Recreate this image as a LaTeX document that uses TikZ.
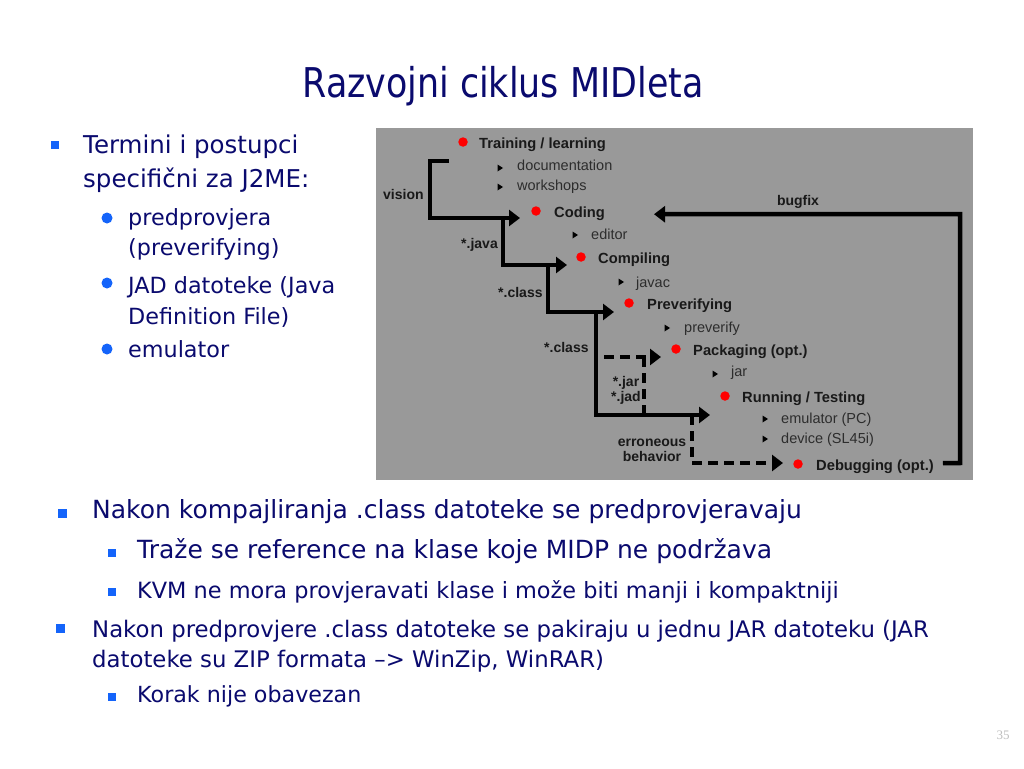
\documentclass[tikz,border=0pt]{standalone}
\usepackage{fontspec}
\setmainfont{DejaVu Sans}
\newfontfamily\titlefont[FakeStretch=0.85]{DejaVu Sans}
\newfontfamily\diafont{Liberation Sans}
\newfontfamily\numfont{Liberation Serif}
\usetikzlibrary{calc, positioning, arrows.meta}

\definecolor{slidenavy}{RGB}{10,10,110}
\definecolor{bulletblue}{RGB}{20,100,250}
\definecolor{diagrey}{RGB}{153,153,153}
\definecolor{dotred}{RGB}{255,0,0}
\definecolor{diatext}{RGB}{25,25,25}
\definecolor{tooltext}{RGB}{45,45,45}

\tikzset{
  txt/.style={anchor=base west, inner sep=0pt, text=slidenavy},
  sqbullet/.style={fill=bulletblue, inner sep=0pt, minimum size=#1},
  rdbullet/.style={circle, fill=bulletblue, inner sep=0pt, minimum size=11pt},
  stagedot/.style={circle, fill=dotred, inner sep=0pt, minimum size=9.5pt},
  stagetext/.style={anchor=base west, inner sep=0pt, text=diatext,
    font=\diafont\bfseries\fontsize{14.7}{17}\selectfont},
  toolitem/.style={anchor=base west, inner sep=0pt, text=tooltext,
    font=\diafont\fontsize{14.5}{17}\selectfont},
  flowlabel/.style={inner sep=0pt, text=diatext, align=center,
    font=\diafont\bfseries\fontsize{14}{17}\selectfont},
  flow/.style={line width=4.5pt, draw=black, -{Triangle[length=11pt,width=16pt]}},
  optflow/.style={flow, dash pattern=on 10pt off 6pt},
  pics/subtri/.style={code={\fill[black] (-2.5,-3.5) -- (3,0) -- (-2.5,3.5) -- cycle;}}
}

\begin{document}
\begin{tikzpicture}[x=1pt, y=-1pt]
\useasboundingbox (0,0) rectangle (1024,768);
\fill[white] (0,0) rectangle (1024,768);

% Title
\node[anchor=base, inner sep=0pt, text=slidenavy, font=\titlefont\fontsize{41}{48}\selectfont]
  (title) at (503,97) {Razvojni ciklus MIDleta};

% Left column
\node[sqbullet=8pt] (b1) at (55,145) {};
\node[txt, font=\fontsize{24.5}{29}\selectfont] (t1a) at (83,153) {Termini i postupci};
\node[txt, font=\fontsize{24.5}{29}\selectfont] (t1b) at (83,187) {specifični za J2ME:};
\node[rdbullet] (c1) at (107,218) {};
\node[rdbullet] (c2) at (107,283) {};
\node[rdbullet] (c3) at (107,349) {};
\node[txt, font=\fontsize{22.3}{27}\selectfont] (s1a) at (128,225) {predprovjera};
\node[txt, font=\fontsize{22.3}{27}\selectfont] (s1b) at (128,255) {(preverifying)};
\node[txt, font=\fontsize{22.3}{27}\selectfont] (s2a) at (128,293) {JAD datoteke (Java};
\node[txt, font=\fontsize{22.3}{27}\selectfont] (s2b) at (128,324) {Definition File)};
\node[txt, font=\fontsize{22.3}{27}\selectfont] (s3) at (128,357) {emulator};

% Diagram - development cycle
\fill[diagrey] (376,128) rectangle (973,480);

% stages
\node[stagedot] (dtrain) at (463,142) {};
\node[stagedot] (dcode) at (536,211) {};
\node[stagedot] (dcomp) at (581,257) {};
\node[stagedot] (dprev) at (629,303) {};
\node[stagedot] (dpack) at (676,349) {};
\node[stagedot] (drun) at (725,396) {};
\node[stagedot] (ddebug) at (798,464) {};
\node[stagetext] (ttrain) at (479,148) {Training / learning};
\node[stagetext] (tcode) at (554,217) {Coding};
\node[stagetext] (tcomp) at (598,263) {Compiling};
\node[stagetext] (tprev) at (647,309) {Preverifying};
\node[stagetext] (tpack) at (693,355) {Packaging (opt.)};
\node[stagetext] (trun) at (742,402) {Running / Testing};
\node[stagetext] (tdebug) at (816,470) {Debugging (opt.)};

% tools
\pic at (500,168) {subtri};
\pic at (500,187) {subtri};
\pic at (575,235) {subtri};
\pic at (621,282) {subtri};
\pic at (667,328) {subtri};
\pic at (715,374) {subtri};
\pic at (765,419) {subtri};
\pic at (765,439) {subtri};
\node[toolitem] (idoc) at (517,170) {documentation};
\node[toolitem] (iwork) at (517,190) {workshops};
\node[toolitem] (iedit) at (591,239) {editor};
\node[toolitem] (ijavac) at (636,287) {javac};
\node[toolitem] (iprev) at (684,332) {preverify};
\node[toolitem] (ijar) at (731,376) {jar};
\node[toolitem] (iemu) at (781,423) {emulator (PC)};
\node[toolitem] (idev) at (781,443) {device (SL45i)};

% labels on the flow
\node[flowlabel, anchor=west] (lvision) at (383,194) {vision};
\node[flowlabel, anchor=west] (ljava) at (461,245) {*.java};
\node[flowlabel, anchor=west] (lclass) at (498,292) {*.class};
\node[flowlabel, anchor=west] (lclassb) at (544,347) {*.class};
\node[flowlabel, anchor=west] (ljar) at (611,390) {*.jar\\[-2pt]*.jad};
\node[flowlabel] (lerr) at (652,450) {erroneous\\[-2pt]behavior};
\node[flowlabel] (lbug) at (798,202) {bugfix};

% arrow ends
\coordinate (incode) at ($(dcode)+(-16,7)$);
\coordinate (incomp) at ($(dcomp)+(-14,8)$);
\coordinate (inprev) at ($(dprev)+(-15,9)$);
\coordinate (inpack) at ($(dpack)+(-15,8)$);
\coordinate (inrun) at ($(drun)+(-15,19)$);
\coordinate (indebug) at ($(ddebug)+(-15,-1)$);
\coordinate (bugtip) at ($(tcode.east)+(49,1)$);

% forks on the flow
\coordinate (vstart) at (449,161);
\coordinate (jfork) at (503,218);
\coordinate (cfork) at (548,265);
\coordinate (pfork) at (596,312);
\coordinate (jarfork) at (604,357);
\coordinate (runfork) at (692,415);
\coordinate (bugstart) at ($(tdebug.east)+(9,-3)$);
\coordinate (bugcorner) at (960,463);

\draw[flow, line join=miter] (vstart) -- ++(-19,0) |- (incode);
\draw[flow] (jfork) |- (incomp);
\draw[flow] (cfork) |- (inprev);
\draw[flow] (pfork) |- (inrun);
\draw[optflow] (jarfork) -- (inpack);
\draw[line width=4.5pt, dash pattern=on 10pt off 6pt] (644,357) -- (644,415);
\draw[optflow] (runfork) |- (indebug);
\draw[flow, line join=miter] (bugstart) -- (bugcorner) |- (bugtip);

% Bottom bullets
\node[sqbullet=9pt] (b2) at (62,513) {};
\node[txt, font=\fontsize{25}{30}\selectfont] (u1) at (92,518) {Nakon kompajliranja .class datoteke se predprovjeravaju};
\node[sqbullet=8pt] (b3) at (112,553) {};
\node[txt, font=\fontsize{25}{30}\selectfont] (u2) at (137,558) {Traže se reference na klase koje MIDP ne podržava};
\node[sqbullet=8pt] (b4) at (112,592) {};
\node[txt, font=\fontsize{22.4}{27}\selectfont] (u3) at (137,598) {KVM ne mora provjeravati klase i može biti manji i kompaktniji};
\node[sqbullet=9pt] (b5) at (60,628) {};
\node[txt, font=\fontsize{22.8}{27}\selectfont] (u4a) at (92,637) {Nakon predprovjere .class datoteke se pakiraju u jednu JAR datoteku (JAR};
\node[txt, font=\fontsize{22.8}{27}\selectfont] (u4b) at (92,667) {datoteke su ZIP formata –> WinZip, WinRAR)};
\node[sqbullet=8pt] (b6) at (112,697) {};
\node[txt, font=\fontsize{22.2}{27}\selectfont] (u5) at (137,702) {Korak nije obavezan};

% page number
\node[text=black!25, inner sep=0pt, font=\numfont\fontsize{13}{15}\selectfont] (pnum) at (1003,735) {35};
\end{tikzpicture}
\end{document}
